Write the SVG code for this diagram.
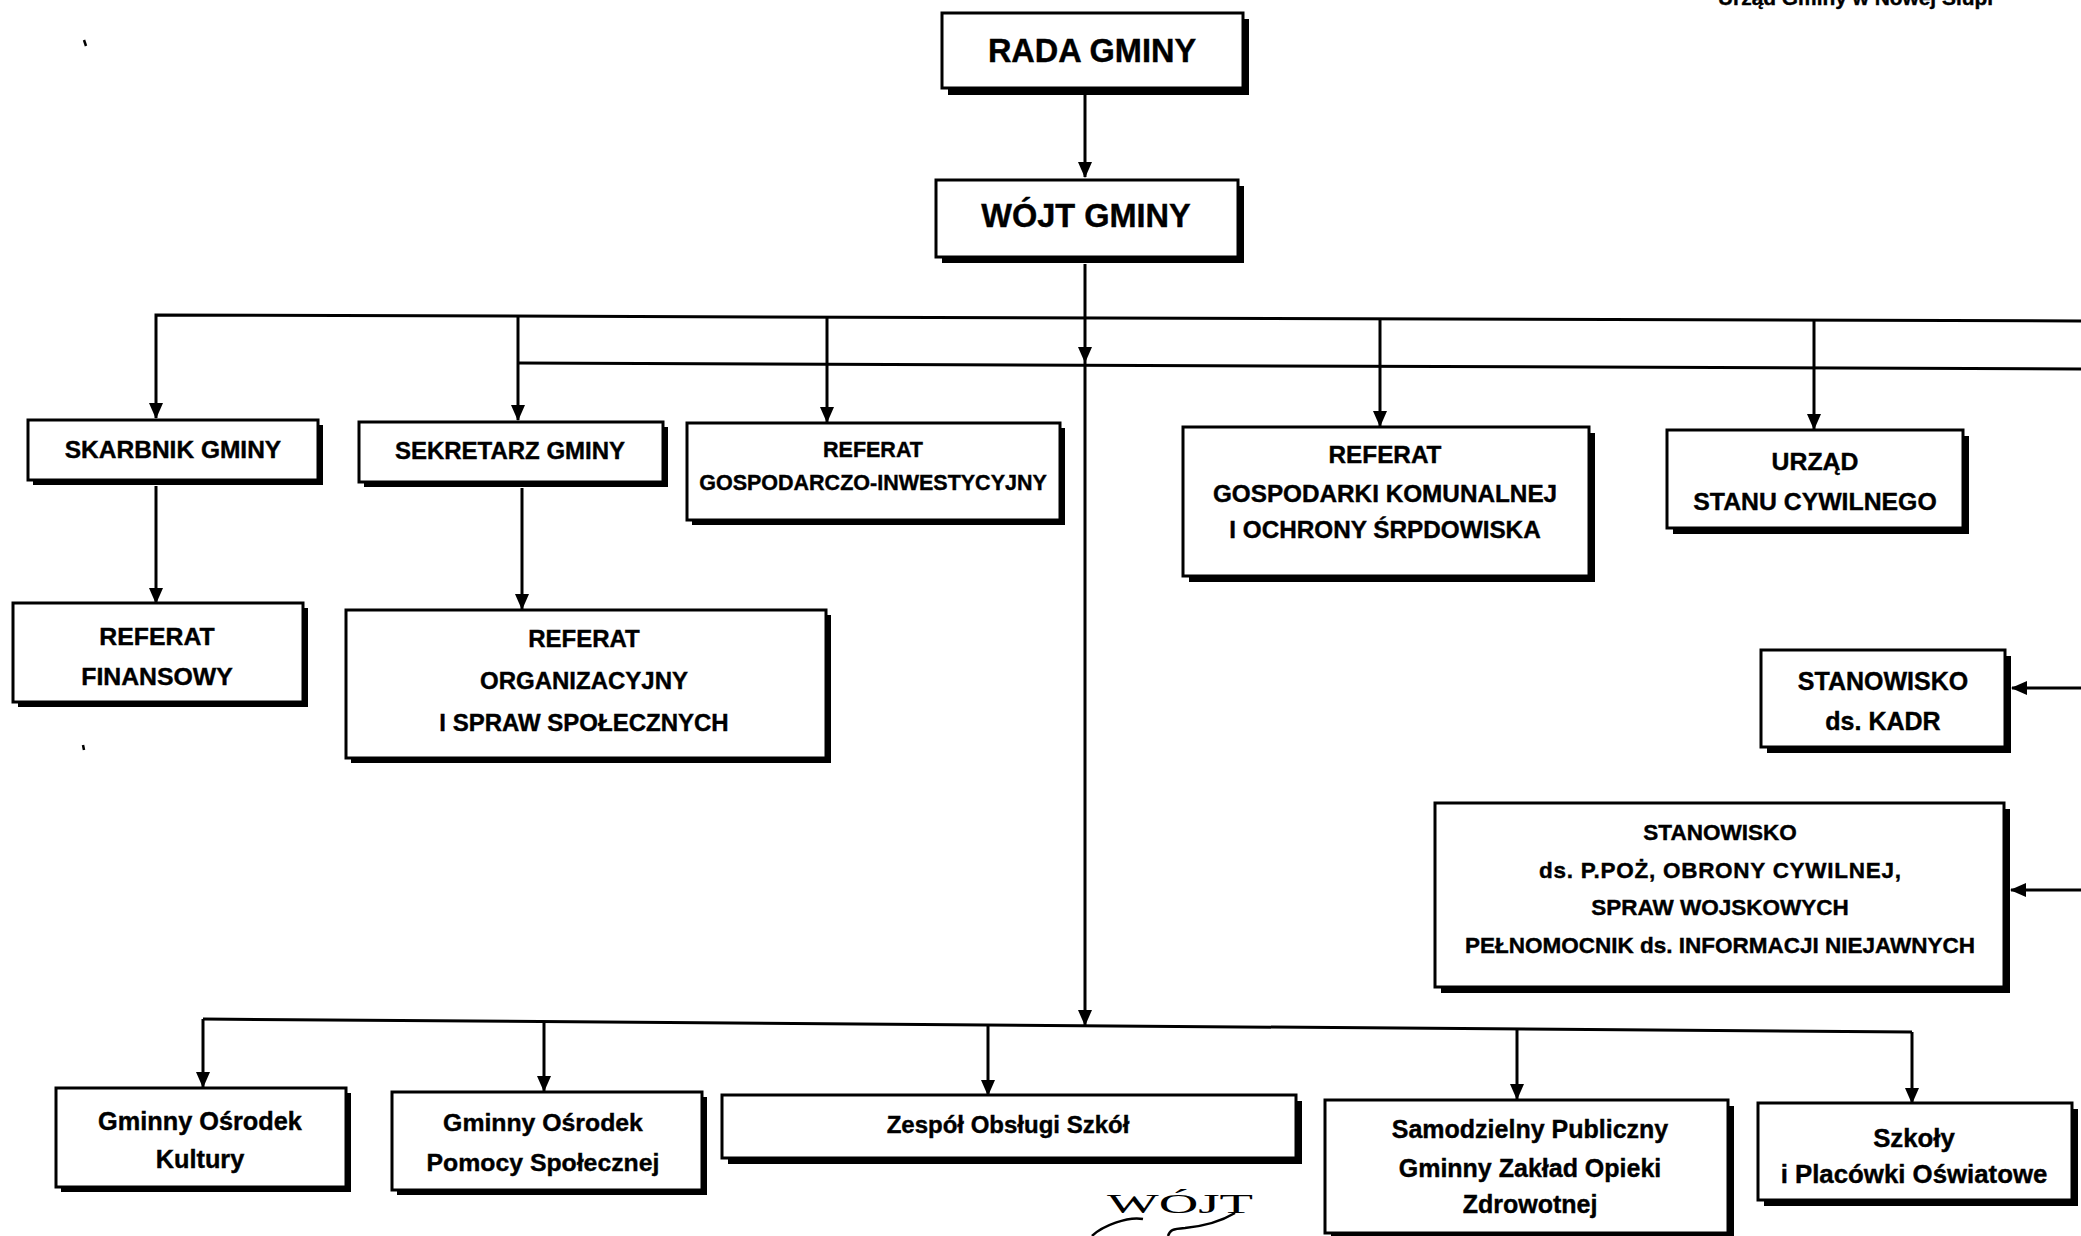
<svg xmlns="http://www.w3.org/2000/svg" width="2081" height="1236" viewBox="0 0 2081 1236">
<defs>
<style>
.box{fill:#fff;stroke:#000;stroke-width:3}
.sh{fill:#000}
.t{font-family:"Liberation Sans",Arial,sans-serif;font-weight:bold;fill:#000;stroke:#000;stroke-width:0.4;text-anchor:middle}
.c{fill:none;stroke:#000;stroke-width:3}
.a{marker-end:url(#arr)}
</style>
<marker id="arr" viewBox="0 0 16 14" refX="15" refY="7" markerWidth="16" markerHeight="14" markerUnits="userSpaceOnUse" orient="auto">
<path d="M0,0 L16,7 L0,14 z" fill="#000"/>
</marker>
</defs>
<rect width="2081" height="1236" fill="#fff"/>

<text class="t" x="1718" y="5" font-size="20" style="text-anchor:start" textLength="275" lengthAdjust="spacingAndGlyphs">Urząd Gminy w Nowej Słupi</text>

<g id="connectors">
<path class="c a" d="M1085,95 V177"/>
<path class="c a" d="M1085,264 V362"/>
<path class="c a" d="M1085,362 V1025"/>
<path class="c a" d="M2081,321 L156,315 V418"/>
<path class="c" d="M2081,369 L518,363"/>
<path class="c a" d="M518,315 V420"/>
<path class="c a" d="M827,318 V422"/>
<path class="c a" d="M1380,319 V426"/>
<path class="c a" d="M1814,320 V429"/>
<path class="c a" d="M156,486 V603"/>
<path class="c a" d="M522,488 V609"/>
<path class="c a" d="M2081,688 H2012"/>
<path class="c a" d="M2081,890 H2011"/>
<path class="c" d="M203,1019 L1912,1032"/>
<path class="c a" d="M203,1019 V1087"/>
<path class="c a" d="M544,1021.6 V1091"/>
<path class="c a" d="M988,1025 V1095"/>
<path class="c a" d="M1517,1029 V1099"/>
<path class="c a" d="M1912,1032 V1103"/>
</g>

<g id="rada">
<rect class="sh" x="948" y="19" width="301" height="76"/>
<rect class="box" x="942" y="13" width="301" height="75"/>
<text class="t" x="1092" y="62" font-size="32.5">RADA GMINY</text>
</g>

<g id="wojt">
<rect class="sh" x="942" y="186" width="302" height="77"/>
<rect class="box" x="936" y="180" width="302" height="77"/>
<text class="t" x="1086" y="227" font-size="32.5">WÓJT GMINY</text>
</g>

<g id="skarbnik">
<rect class="sh" x="33" y="425" width="290" height="60"/>
<rect class="box" x="28" y="420" width="290" height="60"/>
<text class="t" x="173" y="458" font-size="24.5">SKARBNIK GMINY</text>
</g>

<g id="sekretarz">
<rect class="sh" x="364" y="427" width="304" height="60"/>
<rect class="box" x="359" y="422" width="304" height="60"/>
<text class="t" x="510" y="459" font-size="24">SEKRETARZ GMINY</text>
</g>

<g id="ref-gosp-inw">
<rect class="sh" x="692" y="428" width="373" height="97"/>
<rect class="box" x="687" y="423" width="373" height="97"/>
<text class="t" x="873" y="457" font-size="21.5">REFERAT</text>
<text class="t" x="873" y="490" font-size="21.5">GOSPODARCZO-INWESTYCYJNY</text>
</g>

<g id="ref-komunalnej">
<rect class="sh" x="1189" y="433" width="406" height="149"/>
<rect class="box" x="1183" y="427" width="406" height="149"/>
<text class="t" x="1385" y="463" font-size="24.3">REFERAT</text>
<text class="t" x="1385" y="502" font-size="24.3">GOSPODARKI KOMUNALNEJ</text>
<text class="t" x="1385" y="538" font-size="24.3">I OCHRONY ŚRPDOWISKA</text>
</g>

<g id="usc">
<rect class="sh" x="1673" y="436" width="296" height="98"/>
<rect class="box" x="1667" y="430" width="296" height="98"/>
<text class="t" x="1815" y="470" font-size="24.8">URZĄD</text>
<text class="t" x="1815" y="510" font-size="24.8">STANU CYWILNEGO</text>
</g>

<g id="ref-finansowy">
<rect class="sh" x="18" y="608" width="290" height="99"/>
<rect class="box" x="13" y="603" width="290" height="99"/>
<text class="t" x="157" y="645" font-size="24.8">REFERAT</text>
<text class="t" x="157" y="685" font-size="24.8">FINANSOWY</text>
</g>

<g id="ref-organizacyjny">
<rect class="sh" x="351" y="615" width="480" height="148"/>
<rect class="box" x="346" y="610" width="480" height="148"/>
<text class="t" x="584" y="647" font-size="24">REFERAT</text>
<text class="t" x="584" y="689" font-size="24">ORGANIZACYJNY</text>
<text class="t" x="584" y="731" font-size="24">I SPRAW SPOŁECZNYCH</text>
</g>

<g id="kadr">
<rect class="sh" x="1767" y="656" width="244" height="97"/>
<rect class="box" x="1761" y="650" width="244" height="97"/>
<text class="t" x="1883" y="690" font-size="25">STANOWISKO</text>
<text class="t" x="1883" y="730" font-size="25">ds. KADR</text>
</g>

<g id="ppoz">
<rect class="sh" x="1441" y="809" width="569" height="184"/>
<rect class="box" x="1435" y="803" width="569" height="184"/>
<text class="t" x="1720" y="840" font-size="22.5">STANOWISKO</text>
<text class="t" x="1720" y="878" font-size="22.5" textLength="362" lengthAdjust="spacing">ds. P.POŻ, OBRONY CYWILNEJ,</text>
<text class="t" x="1720" y="915" font-size="22.5">SPRAW WOJSKOWYCH</text>
<text class="t" x="1720" y="953" font-size="22.5">PEŁNOMOCNIK ds. INFORMACJI NIEJAWNYCH</text>
</g>

<g id="gok">
<rect class="sh" x="61" y="1093" width="290" height="99"/>
<rect class="box" x="56" y="1088" width="290" height="99"/>
<text class="t" x="200" y="1130" font-size="25.3">Gminny Ośrodek</text>
<text class="t" x="200" y="1168" font-size="25.3">Kultury</text>
</g>

<g id="gops">
<rect class="sh" x="397" y="1097" width="310" height="98"/>
<rect class="box" x="392" y="1092" width="310" height="98"/>
<text class="t" x="543" y="1131" font-size="24.8">Gminny Ośrodek</text>
<text class="t" x="543" y="1171" font-size="24.8">Pomocy Społecznej</text>
</g>

<g id="zos">
<rect class="sh" x="728" y="1101" width="574" height="63"/>
<rect class="box" x="722" y="1095" width="574" height="63"/>
<text class="t" x="1008" y="1133" font-size="24">Zespół Obsługi Szkół</text>
</g>

<g id="spgzoz">
<rect class="sh" x="1331" y="1106" width="403" height="133"/>
<rect class="box" x="1325" y="1100" width="403" height="133"/>
<text class="t" x="1530" y="1138" font-size="25">Samodzielny Publiczny</text>
<text class="t" x="1530" y="1177" font-size="25">Gminny Zakład Opieki</text>
<text class="t" x="1530" y="1213" font-size="25">Zdrowotnej</text>
</g>

<g id="szkoly">
<rect class="sh" x="1764" y="1109" width="314" height="97"/>
<rect class="box" x="1758" y="1103" width="314" height="97"/>
<text class="t" x="1914" y="1147" font-size="25.8">Szkoły</text>
<text class="t" x="1914" y="1183" font-size="25.8">i Placówki Oświatowe</text>
</g>

<g id="stamp">
<text x="1107" y="1213" font-family="'Liberation Serif','Times New Roman',serif" font-size="28" fill="#000" textLength="146" lengthAdjust="spacingAndGlyphs">WÓJT</text>
<path d="M1092,1236 C1102,1226 1128,1216 1143,1219" fill="none" stroke="#000" stroke-width="2.5"/>
<path d="M1168,1236 C1170,1230 1172,1229 1185,1228 C1205,1226 1220,1222 1235,1213" fill="none" stroke="#000" stroke-width="2.5"/>
</g>

<g id="marks">
<path d="M84,40 L86,46" stroke="#000" stroke-width="2.5"/>
<path d="M83,745 L84,750" stroke="#000" stroke-width="2.5"/>
</g>
</svg>
